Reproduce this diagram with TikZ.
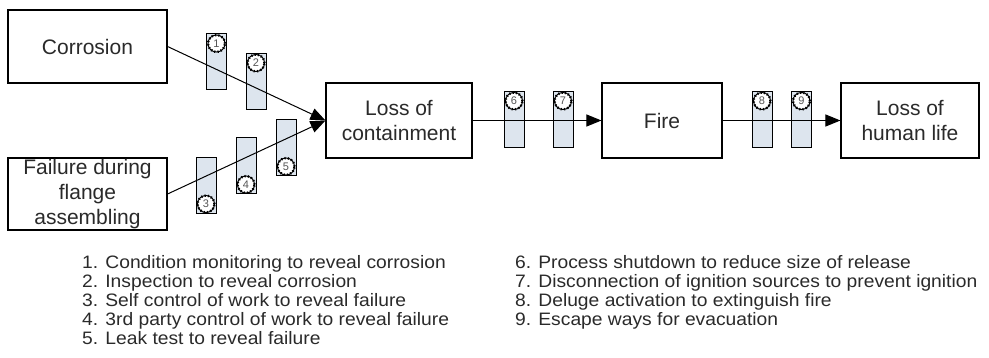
\documentclass[tikz,border=0pt]{standalone}
\usepackage{fontspec}
\setmainfont{Liberation Sans}
\newfontfamily\legendfont[FakeStretch=1.07]{Liberation Sans}
\usetikzlibrary{arrows.meta}
\definecolor{barrierfill}{HTML}{DDE5EE}
\definecolor{ink}{HTML}{2A2A2A}
\tikzset{
  event/.style={draw=black, line width=1.1pt, fill=white, text=ink,
    align=center, inner sep=0pt,
    font=\fontsize{21}{25}\selectfont},
  barrier/.style={draw=black, line width=1pt, fill=barrierfill,
    minimum width=20pt, minimum height=56pt, inner sep=0pt},
  gear/.style={circle, fill=white, draw=black, line width=1pt,
    minimum size=17pt, inner sep=0pt, text=ink!80,
    font=\fontsize{11}{11}\selectfont,
    postaction={draw, line width=2.4pt, dash pattern=on 1.2pt off 2.2pt}},
  conn/.style={draw=black, line width=1pt,
    -{Triangle[length=15pt, width=12pt]}},
  legend/.style={align=left, anchor=north west, inner sep=0pt, text=ink,
    font=\legendfont\fontsize{18}{19}\selectfont},
}
\begin{document}
\begin{tikzpicture}[x=1pt, y=-1pt]
\useasboundingbox (0,0) rectangle (989,358);

% events
\node[event, minimum width=159pt, minimum height=73pt] (corr) at (87.5,46.5) {Corrosion};
\node[event, minimum width=159pt, minimum height=72pt] (fail) at (87.5,194) {Failure during\\flange\\assembling};
\node[event, minimum width=146pt, minimum height=75pt] (loc) at (399,120.5) {Loss of\\containment};
\node[event, minimum width=120pt, minimum height=75pt] (fire) at (662,120.5) {Fire};
\node[event, minimum width=138pt, minimum height=75pt] (life) at (910,120.5) {Loss of\\human life};

% barriers (numbered disc at top or bottom)
\node[barrier] (b1) at (216.5,62) {};
\node[barrier] (b2) at (256,81.5) {};
\node[barrier] (b3) at (206,185.5) {};
\node[barrier] (b4) at (246,166) {};
\node[barrier] (b5) at (286,148) {};
\node[barrier] (b6) at (514,119.5) {};
\node[barrier] (b7) at (563,119.5) {};
\node[barrier] (b8) at (762,119.5) {};
\node[barrier] (b9) at (801.5,119.5) {};

\node[gear] (g1) at ([yshift=-10pt]b1.north) {1};
\node[gear] (g2) at ([yshift=-10pt]b2.north) {2};
\node[gear] (g3) at ([yshift=10pt]b3.south) {3};
\node[gear] (g4) at ([yshift=10pt]b4.south) {4};
\node[gear] (g5) at ([yshift=10pt]b5.south) {5};
\node[gear] (g6) at ([yshift=-10pt]b6.north) {6};
\node[gear] (g7) at ([yshift=-10pt]b7.north) {7};
\node[gear] (g8) at ([yshift=-10pt]b8.north) {8};
\node[gear] (g9) at ([yshift=-10pt]b9.north) {9};

% connectors
\draw[conn] (corr.east) -- (loc.west);
\draw[conn] (fail.east) -- (loc.west);
\draw[conn] (loc.east) -- (fire.west);
\draw[conn] (fire.east) -- (life.west);

% legend
\node[legend] (leg1) at (82,255) {1. Condition monitoring to reveal corrosion\\
2. Inspection to reveal corrosion\\
3. Self control of work to reveal failure\\
4. 3rd party control of work to reveal failure\\
5. Leak test to reveal failure};
\node[legend] (leg2) at (515,255) {6. Process shutdown to reduce size of release\\
7. Disconnection of ignition sources to prevent ignition\\
8. Deluge activation to extinguish fire\\
9. Escape ways for evacuation};
\end{tikzpicture}
\end{document}
